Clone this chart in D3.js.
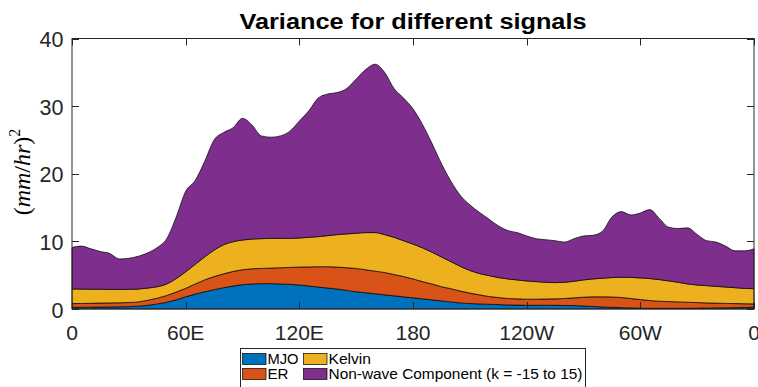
<!DOCTYPE html>
<html><head><meta charset="utf-8">
<script src="https://cdn.jsdelivr.net/npm/d3@7"></script>
<style>body{margin:0;background:#fff}svg{display:block}</style>
</head><body>
<svg id="c" width="758" height="387"></svg>
<script>
const lon = d3.range(0, 361, 5);
const mjo = [0.25,0.25,0.27,0.28,0.3,0.32,0.35,0.42,0.55,0.75,1.0,1.35,1.8,2.2,2.55,2.85,3.15,3.4,3.6,3.7,3.75,3.75,3.7,3.65,3.55,3.4,3.25,3.1,2.95,2.75,2.55,2.4,2.25,2.1,1.95,1.8,1.65,1.5,1.35,1.2,1.05,0.9,0.8,0.75,0.7,0.65,0.6,0.58,0.55,0.55,0.55,0.55,0.52,0.5,0.45,0.38,0.3,0.25,0.2,0.15,0.12,0.1,0.1,0.1,0.1,0.1,0.12,0.14,0.16,0.18,0.2,0.22,0.25];
const er = [0.55,0.57,0.58,0.6,0.6,0.6,0.6,0.63,0.75,0.85,1.0,1.15,1.25,1.5,1.75,1.95,2.05,2.15,2.2,2.25,2.25,2.3,2.4,2.5,2.65,2.82,3.0,3.15,3.25,3.35,3.45,3.4,3.35,3.3,3.15,3.0,2.8,2.55,2.35,2.1,1.95,1.75,1.55,1.35,1.15,1.05,0.95,0.92,0.9,0.9,0.93,0.95,1.03,1.15,1.3,1.42,1.5,1.53,1.5,1.4,1.28,1.15,1.05,1.0,0.95,0.9,0.83,0.76,0.71,0.65,0.6,0.56,0.5];
const kelvin = [2.16,2.13,2.08,2.04,2.0,1.98,1.95,1.9,1.8,1.7,1.7,2.0,2.45,2.9,3.4,3.9,4.3,4.4,4.4,4.4,4.4,4.4,4.35,4.3,4.3,4.38,4.45,4.6,4.8,5.0,5.2,5.5,5.7,5.6,5.5,5.3,5.15,5.0,4.7,4.4,4.0,3.65,3.35,3.15,3.1,2.95,2.9,2.8,2.7,2.6,2.47,2.4,2.4,2.45,2.55,2.65,2.75,2.87,3.0,3.13,3.2,3.25,3.2,3.05,2.9,2.7,2.6,2.55,2.48,2.42,2.35,2.27,2.25];
const nonwave = [6.14,6.35,5.97,5.58,5.3,4.5,4.6,4.85,5.2,5.8,6.7,9.1,11.9,12.4,14.1,16.3,16.6,16.85,18.0,16.85,15.2,14.95,15.15,15.85,17.3,18.7,20.5,20.95,21.0,21.5,22.8,24.1,24.9,24.0,22.0,21.1,20.0,18.25,16.1,13.8,11.9,10.5,9.7,9.05,8.35,7.65,7.15,7.0,6.65,6.35,6.3,6.2,5.95,6.3,6.5,6.45,6.95,8.95,9.7,9.22,9.6,10.2,9.05,7.95,7.95,8.3,7.45,6.65,6.55,6.05,5.45,5.55,5.9];
const seriesNames = ["MJO","ER","Kelvin","Non-wave Component (k = -15 to 15)"];
const seriesColors = ["#0072BD","#D95319","#EDB120","#7E2F8E"];
const xTicks = [0,60,120,180,240,300,360];
const xTickLabels = ["0","60E","120E","180","120W","60W","0"];
const yTicks = [0,10,20,30,40];

const svg = d3.select("#c");
const L = 72, R = 754, T = 38.5, B = 309;
const x = d3.scaleLinear().domain([0,360]).range([L,R]);
const y = d3.scaleLinear().domain([0,40]).range([B,T]);

const rows = lon.map((l,i)=>({lon:l, s0:mjo[i], s1:er[i], s2:kelvin[i], s3:nonwave[i]}));
const stack = d3.stack().keys(["s0","s1","s2","s3"])(rows);
const area = d3.area().x(d=>x(d.data.lon)).y0(d=>y(d[0])).y1(d=>y(d[1])).curve(d3.curveMonotoneX);

svg.append("g").selectAll("path").data(stack).join("path")
  .attr("d", area).attr("fill",(d,i)=>seriesColors[i])
  .attr("stroke","#000").attr("stroke-width",0.7).attr("stroke-linejoin","round");

const font = "'Liberation Sans', Arial, Helvetica, sans-serif";
const axC = "#262626";
const tl = 7;
svg.append("rect").attr("x",L).attr("y",T).attr("width",R-L).attr("height",B-T)
  .attr("fill","none").attr("stroke",axC).attr("stroke-width",1);
const gx = svg.append("g");
xTicks.forEach((t,i)=>{
  const px = Math.round(x(t))+0.5;
  gx.append("line").attr("x1",px).attr("x2",px).attr("y1",B).attr("y2",B-tl).attr("stroke",axC);
  gx.append("line").attr("x1",px).attr("x2",px).attr("y1",T).attr("y2",T+tl).attr("stroke",axC);
  gx.append("text").attr("transform",`translate(${x(t)},340) scale(1.08,1)`).attr("text-anchor","middle")
    .attr("font-family",font).attr("font-size",19.5).attr("fill",axC).text(xTickLabels[i]);
});
const gy = svg.append("g");
yTicks.forEach(t=>{
  const py = Math.round(y(t))+0.5;
  gy.append("line").attr("x1",L).attr("x2",L+tl).attr("y1",py).attr("y2",py).attr("stroke",axC);
  gy.append("line").attr("x1",R).attr("x2",R-tl).attr("y1",py).attr("y2",py).attr("stroke",axC);
  gy.append("text").attr("x",63.5).attr("y",y(t)+8.5).attr("text-anchor","end")
    .attr("font-family",font).attr("font-size",21.5).attr("fill",axC).text(t);
});
svg.append("text").attr("x",(L+R)/2).attr("y",28.5).attr("text-anchor","middle")
  .attr("font-family",font).attr("font-size",22).attr("font-weight","bold").attr("fill","#000")
  .attr("textLength",347).attr("lengthAdjust","spacingAndGlyphs")
  .text("Variance for different signals");
const yl = svg.append("text").attr("transform","translate(30,172) rotate(-90)")
  .attr("text-anchor","middle").attr("font-family","'Liberation Serif','DejaVu Serif',serif")
  .attr("font-size",24).attr("fill","#000");
yl.append("tspan").text("(");
yl.append("tspan").attr("font-style","italic").text("mm");
yl.append("tspan").text("/");
yl.append("tspan").attr("font-style","italic").text("hr");
yl.append("tspan").text(")");
yl.append("tspan").attr("font-size",16).attr("dy",-10).text("2");

const lg = svg.append("g");
lg.append("rect").attr("x",240.5).attr("y",348.5).attr("width",345).attr("height",40)
  .attr("fill","#fff").attr("stroke",axC).attr("stroke-width",1);
const legPos = [[242.5,353.5],[242.5,368.5],[303.5,353.5],[303.5,368.5]];
const legLen = [31,21,42.5,254];
seriesNames.forEach((n,i)=>{
  const [lx,ly] = legPos[i];
  lg.append("rect").attr("x",lx).attr("y",ly).attr("width",23.5).attr("height",11)
    .attr("fill",seriesColors[i]).attr("stroke","#000").attr("stroke-width",0.7);
  lg.append("text").attr("x",lx+25).attr("y",ly+10.5).attr("font-family",font)
    .attr("font-size",13.8).attr("fill","#000")
    .attr("textLength",legLen[i]).attr("lengthAdjust","spacingAndGlyphs").text(n);
});
</script>
</body></html>
